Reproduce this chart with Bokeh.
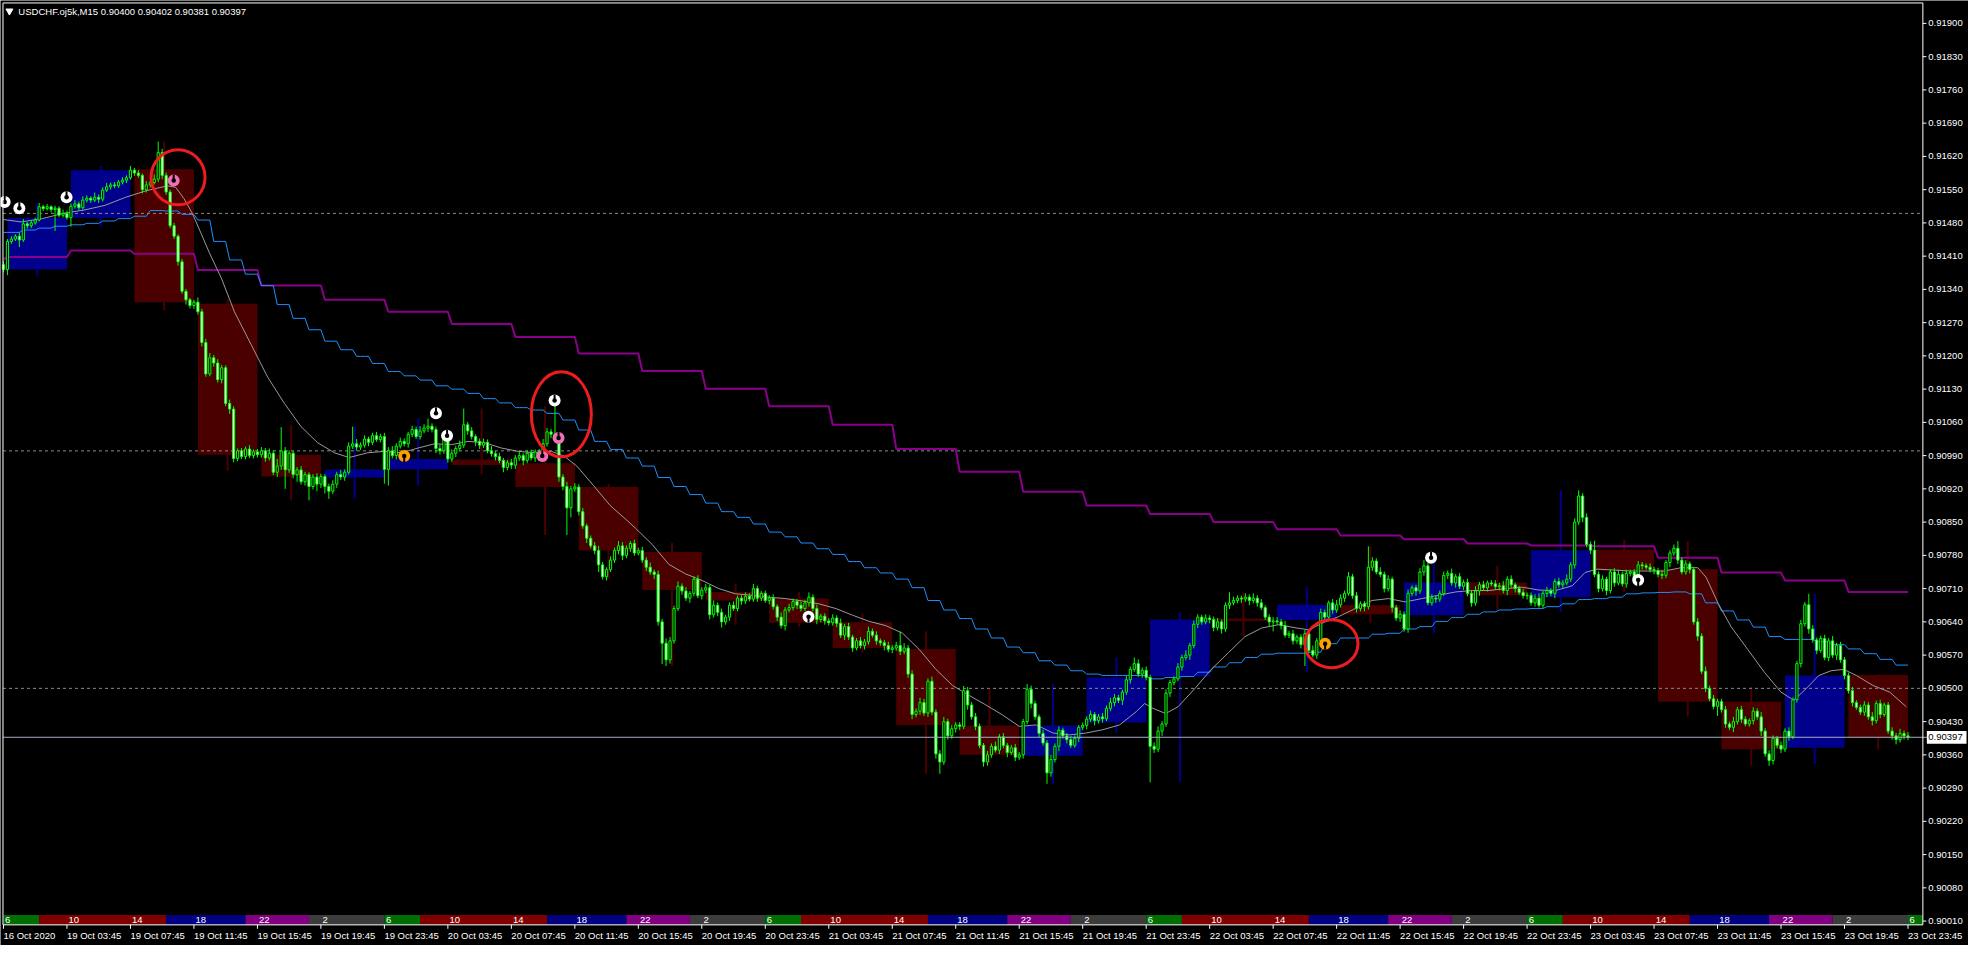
import numpy as np
from bokeh.plotting import figure
from bokeh.models import Range1d
from bokeh.core.properties import value
from bokeh.embed import file_html
from bokeh.resources import INLINE

# ---------------- DATA (prices in points of 0.00001 above 0.90000) ----------------
# M15 bars, bar 0 = 16 Oct 23:45, bar 1 = 19 Oct 00:00 ... bar 480 = 23 Oct 23:45
open_first = 1392
closes = [
    1382,
    1441, 1446, 1452, 1444, 1478, 1474, 1480, 1486, 1514, 1510, 1514, 1508, 1511, 1496, 1500, 1491,
    1515, 1520, 1512, 1528, 1532, 1528, 1534, 1530, 1549, 1556, 1560, 1558, 1566, 1570, 1575, 1591,
    1585, 1580, 1550, 1560, 1565, 1572, 1628, 1580, 1545, 1474, 1452, 1398, 1336, 1318, 1306, 1313,
    1293, 1228, 1162, 1196, 1185, 1150, 1175, 1100, 1088, 984, 1000, 988, 1004, 990, 998, 992,
    1000, 985, 995, 955, 968, 1000, 960, 995, 950, 960, 935, 950, 925, 945, 930, 946,
    925, 915, 930, 950, 945, 955, 1010, 1015, 1008, 1012, 1025, 1018, 1032, 1024, 1030, 961,
    1000, 990, 1010, 1020, 1015, 1035, 1045, 1030, 1042, 1048, 1052, 1045, 1005, 1000, 1030, 983,
    995, 1005, 1012, 1055, 1042, 1030, 1020, 1012, 1018, 1000, 994, 988, 980, 965, 975, 970,
    985, 990, 980, 995, 985, 998, 990, 1015, 1040, 1035, 1030, 945, 925, 880, 920, 924,
    872, 842, 816, 800, 790, 760, 735, 750, 770, 790, 800, 780, 795, 805, 785, 790,
    770, 755, 745, 740, 640, 595, 560, 600, 668, 715, 705, 690, 700, 730, 695, 707,
    712, 655, 675, 660, 640, 650, 675, 668, 690, 684, 694, 688, 710, 690, 700, 685,
    690, 672, 650, 632, 665, 670, 683, 675, 668, 680, 692, 668, 645, 652, 642, 638,
    648, 637, 612, 630, 608, 585, 600, 590, 598, 620, 612, 600, 596, 590, 582, 585,
    590, 578, 585, 530, 445, 452, 470, 448, 515, 450, 362, 345, 430, 400, 415, 423,
    420, 495, 465, 440, 420, 380, 345, 360, 378, 370, 398, 380, 365, 375, 355, 360,
    430, 498, 468, 440, 405, 385, 322, 350, 378, 412, 400, 392, 380, 395, 418, 422,
    435, 445, 432, 440, 436, 458, 470, 480, 475, 492, 518, 540, 552, 530, 538, 523,
    378, 372, 410, 425, 490, 512, 520, 545, 565, 570, 590, 635, 650, 640, 648, 645,
    628, 640, 625, 675, 680, 685, 690, 688, 692, 685, 690, 680, 670, 650, 640, 642,
    640, 632, 612, 615, 600, 608, 592, 615, 580, 570, 600, 660, 650, 680, 665, 676,
    690, 700, 735, 695, 668, 678, 672, 755, 768, 745, 740, 710, 730, 670, 648, 656,
    625, 700, 712, 705, 745, 758, 680, 690, 688, 700, 738, 742, 722, 735, 715, 723,
    700, 680, 705, 718, 712, 722, 720, 714, 716, 706, 730, 718, 710, 702, 695, 696,
    680, 690, 675, 700, 706, 700, 725, 718, 722, 730, 760, 850, 905, 860, 803, 791,
    740, 710, 730, 706, 745, 722, 740, 720, 742, 745, 730, 760, 758, 755, 750, 748,
    740, 738, 765, 785, 795, 770, 745, 762, 750, 640, 610, 536, 500, 478, 462, 472,
    455, 425, 418, 430, 455, 435, 425, 432, 452, 440, 410, 362, 348, 395, 380, 372,
    410, 398, 476, 552, 636, 676, 625, 602, 580, 605, 565, 600, 570, 590, 560, 527,
    495, 470, 460, 450, 465, 440, 432, 468, 445, 465, 410, 400, 392, 405, 400, 397,
]
upper_wick = [
    8,
    5, 6, 4, 8, 10, 4, 6, 5, 8, 4, 6, 3, 5, 4, 8, 6,
    6, 8, 5, 8, 6, 4, 10, 6, 6, 8, 5, 6, 4, 6, 5, 9,
    5, 6, 4, 8, 6, 10, 23, 8, 6, 5, 6, 4, 6, 5, 4, 5,
    10, 6, 8, 10, 6, 8, 6, 5, 8, 6, 5, 6, 5, 8, 5, 6,
    8, 6, 10, 6, 15, 50, 8, 6, 5, 6, 8, 6, 5, 6, 8, 6,
    5, 6, 8, 6, 10, 6, 8, 36, 10, 6, 8, 5, 6, 8, 6, 8,
    8, 10, 6, 8, 6, 5, 8, 6, 10, 8, 16, 6, 6, 8, 10, 6,
    8, 6, 10, 34, 6, 8, 5, 6, 8, 6, 10, 6, 8, 5, 6, 8,
    6, 8, 5, 6, 8, 5, 6, 10, 8, 6, 65, 8, 6, 10, 6, 8,
    6, 8, 5, 6, 8, 10, 6, 5, 8, 6, 10, 8, 6, 5, 8, 6,
    8, 6, 10, 5, 8, 6, 10, 8, 6, 10, 6, 8, 5, 6, 8, 6,
    8, 6, 10, 6, 8, 5, 6, 8, 5, 6, 8, 6, 10, 6, 5, 6,
    6, 8, 5, 10, 6, 8, 6, 5, 8, 6, 10, 6, 8, 5, 6, 6,
    8, 6, 10, 6, 8, 5, 6, 8, 6, 10, 6, 8, 5, 6, 8, 6,
    8, 30, 10, 6, 8, 6, 10, 8, 6, 10, 6, 8, 10, 6, 8, 6,
    6, 10, 8, 6, 8, 6, 5, 8, 6, 10, 6, 8, 5, 6, 8, 6,
    6, 11, 8, 6, 5, 8, 6, 10, 6, 8, 5, 6, 8, 6, 5, 6,
    6, 8, 5, 6, 8, 6, 10, 8, 6, 5, 8, 6, 13, 9, 6, 8,
    6, 8, 10, 6, 8, 6, 5, 8, 6, 10, 6, 8, 6, 5, 8, 6,
    6, 8, 5, 6, 22, 8, 6, 5, 8, 6, 10, 6, 8, 5, 6, 8,
    8, 6, 10, 6, 8, 5, 6, 8, 6, 10, 6, 8, 6, 5, 8, 10,
    8, 6, 10, 6, 8, 5, 6, 44, 8, 6, 10, 6, 8, 5, 6, 8,
    6, 8, 5, 6, 8, 12, 6, 8, 5, 6, 8, 6, 10, 6, 8, 6,
    8, 6, 10, 6, 8, 5, 6, 8, 6, 10, 6, 8, 5, 6, 8, 6,
    6, 8, 10, 6, 8, 5, 6, 8, 6, 10, 6, 8, 12, 6, 8, 6,
    20, 6, 8, 5, 6, 8, 10, 6, 8, 5, 6, 8, 6, 5, 8, 6,
    6, 8, 5, 6, 8, 15, 6, 8, 5, 6, 8, 6, 10, 6, 8, 6,
    6, 8, 5, 10, 6, 8, 6, 5, 8, 6, 10, 6, 8, 6, 5, 8,
    6, 8, 5, 6, 8, 6, 23, 8, 5, 6, 8, 6, 10, 6, 8, 6,
    6, 8, 5, 6, 8, 6, 10, 6, 8, 5, 6, 8, 6, 10, 6, 8,
]
lower_wick = [
    6,
    12, 5, 4, 15, 4, 6, 5, 4, 3, 5, 4, 6, 45, 4, 5, 4,
    19, 5, 6, 4, 5, 6, 4, 8, 5, 4, 6, 5, 4, 5, 6, 4,
    6, 5, 8, 6, 5, 4, 6, 8, 6, 5, 6, 8, 5, 10, 6, 7,
    6, 8, 6, 5, 8, 6, 8, 6, 10, 8, 6, 5, 6, 5, 6, 6,
    6, 8, 5, 6, 10, 8, 40, 6, 8, 15, 6, 8, 29, 6, 15, 8,
    15, 16, 6, 8, 6, 8, 5, 6, 8, 6, 5, 8, 6, 5, 6, 30,
    34, 6, 8, 5, 6, 8, 6, 5, 6, 5, 8, 6, 10, 8, 6, 8,
    6, 8, 5, 6, 8, 6, 10, 8, 6, 5, 6, 8, 6, 10, 6, 8,
    8, 6, 10, 6, 5, 8, 6, 5, 6, 8, 6, 10, 8, 57, 20, 6,
    8, 6, 10, 5, 8, 15, 6, 8, 5, 6, 8, 10, 6, 8, 6, 5,
    6, 8, 6, 10, 8, 44, 13, 8, 6, 5, 8, 6, 10, 6, 5, 8,
    6, 10, 6, 8, 12, 6, 8, 5, 6, 8, 6, 5, 6, 8, 6, 5,
    8, 6, 8, 6, 10, 5, 6, 8, 6, 5, 8, 6, 10, 6, 8, 6,
    6, 8, 6, 10, 6, 8, 5, 6, 8, 6, 5, 8, 6, 10, 6, 8,
    6, 8, 6, 8, 10, 6, 8, 6, 8, 6, 10, 25, 6, 8, 6, 8,
    8, 6, 10, 6, 8, 6, 10, 8, 6, 5, 8, 6, 10, 6, 8, 6,
    8, 6, 10, 6, 8, 6, 23, 8, 6, 10, 6, 8, 6, 5, 8, 6,
    8, 6, 10, 6, 8, 5, 6, 8, 6, 10, 6, 8, 5, 6, 8, 6,
    76, 8, 6, 10, 6, 8, 6, 5, 8, 6, 10, 6, 8, 6, 5, 8,
    8, 6, 10, 6, 8, 5, 6, 8, 6, 10, 6, 8, 5, 6, 10, 20,
    6, 8, 5, 6, 8, 6, 8, 45, 6, 5, 8, 6, 10, 6, 8, 6,
    6, 8, 5, 6, 8, 6, 10, 6, 8, 5, 6, 8, 6, 10, 6, 8,
    6, 8, 6, 10, 6, 8, 5, 6, 8, 6, 5, 8, 6, 10, 6, 8,
    6, 8, 6, 10, 6, 8, 5, 6, 8, 6, 10, 6, 8, 5, 6, 8,
    6, 8, 5, 6, 8, 6, 10, 6, 8, 5, 6, 8, 6, 10, 6, 8,
    6, 8, 6, 10, 6, 8, 5, 6, 8, 6, 10, 6, 8, 5, 6, 8,
    6, 8, 6, 10, 6, 8, 5, 6, 8, 6, 10, 6, 8, 5, 6, 20,
    6, 8, 6, 10, 6, 8, 5, 6, 8, 6, 10, 6, 11, 8, 6, 8,
    6, 8, 5, 6, 8, 6, 10, 6, 8, 5, 6, 8, 6, 10, 6, 8,
    6, 8, 5, 6, 8, 6, 10, 6, 8, 5, 6, 8, 10, 6, 8, 6,
]

# H4 candles drawn as boxes (blocks 1..30, each 16 M15 bars)
h4_open = [1382, 1491, 1593, 1310, 992, 944, 961, 982, 974, 924, 787, 703, 689, 639, 583,
           422, 358, 428, 525, 647, 644, 675, 654, 723, 692, 792, 751, 472, 375, 528]
h4_close = [1491, 1591, 1313, 992, 946, 961, 983, 970, 924, 790, 707, 685, 638, 585, 423,
            360, 422, 523, 645, 642, 676, 656, 723, 696, 791, 748, 472, 372, 527, 396]
h4_high = [1522, 1600, 1651, 1320, 1055, 1051, 1068, 1089, 1094, 930, 806, 720, 703, 658, 620,
           499, 509, 565, 661, 702, 713, 799, 785, 758, 917, 812, 810, 503, 699, 530]
h4_low = [1370, 1472, 1296, 958, 896, 899, 927, 951, 823, 730, 547, 634, 630, 575, 320,
          340, 299, 406, 302, 610, 534, 637, 616, 665, 661, 703, 440, 337, 340, 371]

# H1 moving average (blue, one value per hour, index 0 = bar 0)
h1_ma = [1460,
         1460, 1465, 1469, 1473, 1476, 1479, 1484, 1489, 1494, 1506, 1505, 1498, 1486, 1441,
         1402, 1372, 1348, 1308, 1279, 1255, 1231, 1213, 1199, 1184, 1167, 1158, 1149, 1137,
         1130, 1121, 1110, 1101, 1091, 1086, 1079, 1065, 1044, 1020, 1003, 985, 968,
         944, 925, 908, 890, 872, 860, 846, 829, 819, 806, 794, 782, 767, 754, 743, 730,
         712, 685, 665, 647, 625, 606, 587, 575, 558, 549, 537, 530, 527, 527, 527, 520,
         523, 525, 534, 545, 554, 565, 572, 574,
         574, 576, 594, 606, 606, 614, 616, 625, 630, 641, 649, 656, 661, 665, 667, 668,
         672, 678, 687, 689, 692, 699, 701, 702, 703, 699, 680, 663, 644, 629, 609, 603,
         603, 598, 592, 583, 573, 561, 549]
# H4 moving average (purple, one value per 4 hours, index 0 = bar 0)
h4_ma = [1403, 1408, 1422, 1415, 1381, 1348, 1318, 1293, 1267, 1240, 1205, 1168, 1131, 1094,
         1055, 1004, 956, 914, 885, 867, 850, 835, 822, 814, 805, 801, 799, 775, 744, 727, 703]
# M15 moving average (grey), read at these bar positions
ma_x = [0, 4.5, 9.8, 15, 20.3, 25.6, 30.8, 36.1, 41.3, 43.4, 45.5, 47.6, 49.8, 51.9, 55, 58.2,
        62.4, 66.6, 70.8, 75, 79.2, 83.4, 87.1, 91.8, 96, 100.3, 104.5, 108.7, 112.9, 117.1,
        121.3, 125.5, 129.7, 133.9, 138.1, 141.3, 144.5, 148.7, 152.9, 157.1, 159.3, 163.5,
        167.7, 171.9, 176.1, 180.3, 184.5, 188.7, 192.9, 197.1, 201.3, 205.5, 209.8, 214,
        218.2, 222.4, 226.6, 230.8, 235, 239.2, 243.4, 247.6, 251.8, 256, 260.3, 264.5, 268.7,
        272.9, 277.1, 281.3, 285.5, 287.6, 289.7, 292.9, 296, 300.2, 304.4, 308.7, 312.9,
        317.1, 321.3, 326, 329.1, 332.3, 336.5, 340.7, 344.9, 349.1, 353.3, 357.5, 361.7, 366,
        370.2, 374.4, 378.6, 382.8, 387, 391.2, 395.4, 398.6, 401.7, 405.9, 410.1, 414.3,
        418.6, 422.8, 427, 429.1, 432.2, 435.4, 439.6, 443.8, 448, 451.2, 454.3, 457.5, 460.6,
        463.8, 467, 471.2, 475.4, 479.6]
ma_y = [1487, 1482, 1489, 1500, 1507, 1517, 1534, 1548, 1558, 1555, 1531, 1500, 1458, 1417,
        1362, 1293, 1224, 1155, 1100, 1051, 1017, 996, 986, 996, 999, 996, 1006, 1015, 1013,
        1020, 1017, 1006, 999, 996, 999, 989, 968, 927, 885, 854, 837, 803, 761, 741, 727, 710,
        699, 696, 692, 689, 684, 678, 668, 654, 641, 632, 616, 582, 540, 506, 485, 465, 444,
        420, 423, 406, 402, 406, 413, 423, 451, 468, 458, 447, 461, 499, 540, 575, 609, 627,
        634, 627, 623, 637, 651, 668, 685, 689, 682, 689, 696, 703, 706, 706, 710, 713, 707,
        706, 716, 744, 751, 749, 747, 747, 747, 754, 754, 734, 678, 630, 582, 534, 492, 475,
        499, 527, 537, 540, 527, 506, 492, 461]

# signal markers
mk_x = [0.3, 4.0, 15.9, 42.9, 109.0, 111.8, 101.0, 138.9, 139.9, 135.8, 202.9, 359.8, 333.1, 412.0]
mk_y = [1524, 1511, 1534, 1569, 1079, 1032, 989, 1106, 1027, 989, 651, 775, 594, 728]
mk_color = ["white", "white", "white", "pink", "white", "white", "orange", "white", "pink",
            "pink", "white", "white", "orange", "white"]
mk_kind = ["U", "U", "U", "U", "U", "U", "n", "U", "U", "U", "n", "U", "n", "n"]

# red highlight ellipses (centre bar, centre price, size in px)
circ_x = [44.0, 140.6, 334.7]
circ_y = [1576, 1077, 594]
circ_w = [54, 60, 53]
circ_h = [55, 85, 48]

# session strip
seg_start = [0, 9, 41, 61, 77, 96, 105, 137, 157, 173, 192, 201, 233, 253, 269,
             288, 297, 329, 349, 365, 384, 393, 425, 445, 461, 480]
seg_end = [9, 41, 61, 77, 96, 105, 137, 157, 173, 192, 201, 233, 253, 269, 288,
           297, 329, 349, 365, 384, 393, 425, 445, 461, 480, 483.75]
seg_color = ["#006e00", "#800000", "#000080", "#800080", "#3c3c3c"] * 5 + ["#006e00"]
session_labels = ["6", "10", "14", "18", "22", "2", "6", "10", "14", "18", "22", "2",
                  "6", "10", "14", "18", "22", "2", "6", "10", "14", "18", "22", "2",
                  "6", "10", "14", "18", "22", "2", "6"]
tick_bars = [0, 16, 32, 48, 64, 80, 96, 112, 128, 144, 160, 176, 192, 208, 224, 240, 256,
             272, 288, 304, 320, 336, 352, 368, 384, 400, 416, 432, 448, 464, 480]
time_labels = ["16 Oct 2020",
               "19 Oct 03:45", "19 Oct 07:45", "19 Oct 11:45", "19 Oct 15:45", "19 Oct 19:45", "19 Oct 23:45",
               "20 Oct 03:45", "20 Oct 07:45", "20 Oct 11:45", "20 Oct 15:45", "20 Oct 19:45", "20 Oct 23:45",
               "21 Oct 03:45", "21 Oct 07:45", "21 Oct 11:45", "21 Oct 15:45", "21 Oct 19:45", "21 Oct 23:45",
               "22 Oct 03:45", "22 Oct 07:45", "22 Oct 11:45", "22 Oct 15:45", "22 Oct 19:45", "22 Oct 23:45",
               "23 Oct 03:45", "23 Oct 07:45", "23 Oct 11:45", "23 Oct 15:45", "23 Oct 19:45", "23 Oct 23:45"]
price_ticks = [0.90010, 0.90080, 0.90150, 0.90220, 0.90290, 0.90360, 0.90430, 0.90500, 0.90570,
               0.90640, 0.90710, 0.90780, 0.90850, 0.90920, 0.90990, 0.91060, 0.91130, 0.91200,
               0.91270, 0.91340, 0.91410, 0.91480, 0.91550, 0.91620, 0.91690, 0.91760, 0.91830,
               0.91900]
dashed_levels = [1500, 1000, 500]
bid = 397
bid_text = "0.90397"
title_text = "USDCHF.oj5k,M15  0.90400 0.90402 0.90381 0.90397"


def px(v):
    return 0.90000 + np.asarray(v, dtype=float) * 1e-5


# ---------------- layout helpers (window pixel -> bar / price units) ----------------
PX_PER_PT = 0.483          # vertical pixels per 0.00001
PX_PER_BAR = 4.0


def bx(xpix):
    return (xpix - 3.0) / PX_PER_BAR


def pt(ypix):
    return 1500.0 - (ypix - 216.5) / PX_PER_PT


FONT = value("Liberation Sans")
FS = "9.5px"
L, R = bx(2.5), bx(1938.0)          # chart area left/right (bars)
T, B = pt(2.5), pt(940.0)           # chart area top/bottom (points)

# ---------------- derived arrays ----------------
n = len(closes)
idx = np.arange(n)
c = np.array(closes, dtype=float)
o = np.concatenate([[open_first], c[:-1]])
hi = np.maximum(o, c) + np.array(upper_wick)
lo = np.minimum(o, c) - np.array(lower_wick)
bull = c >= o
blue_line = np.array([h1_ma[(i + 3) // 4] for i in idx])
purple_line = np.array([h4_ma[(i + 15) // 16] for i in idx])

p = figure(width=1968, height=945, output_backend="svg", toolbar_location=None,
           x_range=Range1d(bx(0), bx(1984)), y_range=Range1d(px(pt(961)), px(pt(0))),
           background_fill_color="black", border_fill_color="black", min_border=0,
           x_axis_location=None, y_axis_location=None)
p.grid.visible = False
p.outline_line_color = None

# H4 boxes
b_idx = np.arange(1, 31)
h4o = np.array(h4_open); h4c = np.array(h4_close)
box_col = np.where(h4c > h4o, "#00008c", "#4b0000")
p.segment(x0=16 * b_idx - 7.5, y0=px(h4_low), x1=16 * b_idx - 7.5, y1=px(h4_high),
          line_color=box_col, line_width=2)
p.quad(left=16 * b_idx - 15, right=16 * b_idx, bottom=px(np.minimum(h4o, h4c)),
       top=px(np.maximum(h4o, h4c)), fill_color=box_col, line_color=None)

# horizontal levels (dashed round numbers)
for lv in dashed_levels:
    p.segment(x0=L, y0=float(px(lv)), x1=R, y1=float(px(lv)), line_color="#8a8a8a",
              line_width=1, line_dash="3 3")

# moving averages
p.line(idx, px(purple_line), line_color="#8b008b", line_width=2)
p.line(idx, px(blue_line), line_color="#1e90ff", line_width=1)
p.line(ma_x, px(ma_y), line_color="#9a9a9a", line_width=1)

# candles
p.segment(x0=idx, y0=px(lo), x1=idx, y1=px(hi), line_color="#00ff00", line_width=1)
p.vbar(x=idx, width=0.55, bottom=px(np.minimum(o, c)), top=px(np.maximum(o, c)),
       fill_color=np.where(bull, "black", "white"), line_color="#00ff00", line_width=1)

# bid line
p.segment(x0=L, y0=float(px(bid)), x1=bx(1942), y1=float(px(bid)), line_color="#a8acc0",
          line_width=1)

# markers: coloured disc, black hole, black slit (top for "U", bottom for buy)
mcol = {"white": "#ffffff", "pink": "#f070b8", "orange": "#ffa000"}
mk_fill = [mcol[k] for k in mk_color]
mk_py = px(mk_y)
p.scatter(x=mk_x, y=mk_py, marker="circle", size=12, fill_color=mk_fill, line_color=None)
p.scatter(x=mk_x, y=mk_py, marker="circle", size=4.5, fill_color="black", line_color=None)
slit_shift = np.array([3.0 if k == "U" else -3.0 for k in mk_kind]) / PX_PER_PT
p.scatter(x=mk_x, y=px(np.array(mk_y) + slit_shift), marker="dash", angle=np.pi / 2,
          size=6, line_color="black", line_width=2)

# red ellipses
p.ellipse(x=circ_x, y=px(circ_y), width=circ_w, height=circ_h,
          width_units="screen", height_units="screen",
          fill_color=None, line_color="#ee1c1c", line_width=3)

# session strip at the bottom of the chart area
p.quad(left=seg_start, right=seg_end, bottom=float(px(B)), top=float(px(pt(930))),
       fill_color=seg_color, line_color=None)
p.text(x=[t + 0.4 for t in tick_bars], y=float(px(pt(935))), text=session_labels,
       text_font=FONT, text_font_size=FS, text_color="white",
       text_align="left", text_baseline="middle")

# chart frame
p.segment(x0=[L, L, R, L], y0=px([B, T, T, B]), x1=[L, R, R, R], y1=px([T, T, B, B]),
          line_color="white", line_width=1)

# price scale (right)
pt_ticks = (np.array(price_ticks) - 0.9) * 1e5
p.segment(x0=R, y0=price_ticks, x1=bx(1941.5), y1=price_ticks, line_color="white", line_width=1)
p.text(x=bx(1943.5), y=price_ticks, text=["%.5f" % v for v in price_ticks],
       text_font=FONT, text_font_size=FS, text_color="white",
       text_align="left", text_baseline="middle")

# bid price box
p.quad(left=bx(1942), right=bx(1982), bottom=float(px(bid - 6.5 / PX_PER_PT)),
       top=float(px(bid + 6.5 / PX_PER_PT)), fill_color="white", line_color=None)
p.text(x=[bx(1943.5)], y=[float(px(bid))], text=[bid_text], text_font=FONT,
       text_font_size=FS, text_color="black", text_align="left", text_baseline="middle")

# time scale (bottom)
p.segment(x0=tick_bars, y0=float(px(B)), x1=tick_bars, y1=float(px(pt(944))),
          line_color="white", line_width=1)
p.text(x=tick_bars, y=float(px(pt(950.5))), text=time_labels, text_font=FONT,
       text_font_size=FS, text_color="white", text_align="left", text_baseline="middle")

# title
p.scatter(x=[bx(9)], y=[float(px(pt(10.7)))], marker="inverted_triangle", size=7,
          fill_color="white", line_color="white")
p.text(x=[bx(18)], y=[float(px(pt(10.7)))], text=[title_text], text_font=FONT,
       text_font_size=FS, text_color="white", text_baseline="middle", text_align="left")

open("out.html", "w").write(file_html(p, INLINE))
